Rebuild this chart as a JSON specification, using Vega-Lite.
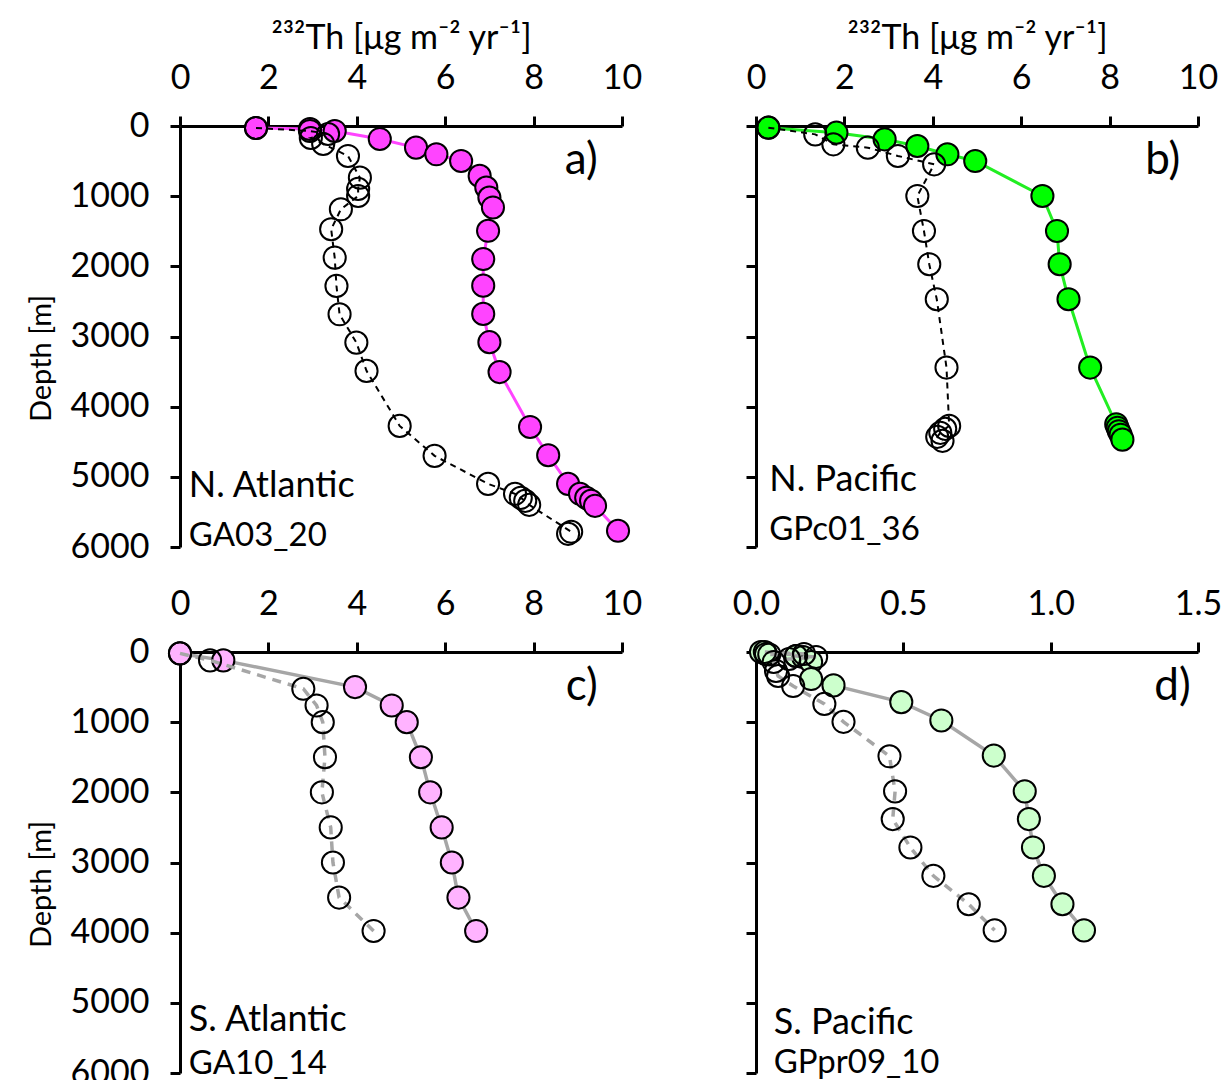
{
  "$schema": "https://vega.github.io/schema/vega-lite/v6.json",
  "background": "white",
  "padding": {"left": 27, "top": 21, "right": 5, "bottom": 0},
  "datasets": {
    "labels": [
      {"p":"a","k":"tag","t":"a)"},{"p":"a","k":"name","t":"N. Atlantic"},{"p":"a","k":"id","t":"GA03_20"},
      {"p":"b","k":"tag","t":"b)"},{"p":"b","k":"name","t":"N. Pacific"},{"p":"b","k":"id","t":"GPc01_36"},
      {"p":"c","k":"tag","t":"c)"},{"p":"c","k":"name","t":"S. Atlantic"},{"p":"c","k":"id","t":"GA10_14"},
      {"p":"d","k":"tag","t":"d)"},{"p":"d","k":"name","t":"S. Pacific"},{"p":"d","k":"id","t":"GPpr09_10"}
    ],
    "profiles": [
      {"p":"a","s":"f","x":1.72,"d":28},{"p":"a","s":"f","x":2.94,"d":43},{"p":"a","s":"f","x":3.5,"d":71},{"p":"a","s":"f","x":4.52,"d":185},{"p":"a","s":"f","x":5.34,"d":308},{"p":"a","s":"f","x":5.8,"d":403},{"p":"a","s":"f","x":6.36,"d":498},{"p":"a","s":"f","x":6.78,"d":711},{"p":"a","s":"f","x":6.93,"d":877},{"p":"a","s":"f","x":7.0,"d":1019},{"p":"a","s":"f","x":7.08,"d":1161},{"p":"a","s":"f","x":6.97,"d":1493},{"p":"a","s":"f","x":6.86,"d":1896},{"p":"a","s":"f","x":6.86,"d":2275},{"p":"a","s":"f","x":6.86,"d":2678},{"p":"a","s":"f","x":7.0,"d":3081},{"p":"a","s":"f","x":7.23,"d":3507},{"p":"a","s":"f","x":7.92,"d":4289},{"p":"a","s":"f","x":8.33,"d":4692},{"p":"a","s":"f","x":8.78,"d":5100},{"p":"a","s":"f","x":9.05,"d":5242},{"p":"a","s":"f","x":9.19,"d":5299},{"p":"a","s":"f","x":9.3,"d":5342},{"p":"a","s":"f","x":9.39,"d":5413},{"p":"a","s":"f","x":9.91,"d":5769},
      {"p":"a","s":"o","x":1.72,"d":28},{"p":"a","s":"o","x":2.94,"d":71},{"p":"a","s":"o","x":3.35,"d":114},{"p":"a","s":"o","x":2.96,"d":171},{"p":"a","s":"o","x":3.24,"d":256},{"p":"a","s":"o","x":3.8,"d":427},{"p":"a","s":"o","x":4.07,"d":736},{"p":"a","s":"o","x":4.03,"d":897},{"p":"a","s":"o","x":4.03,"d":997},{"p":"a","s":"o","x":3.64,"d":1187},{"p":"a","s":"o","x":3.42,"d":1471},{"p":"a","s":"o","x":3.5,"d":1876},{"p":"a","s":"o","x":3.54,"d":2279},{"p":"a","s":"o","x":3.61,"d":2683},{"p":"a","s":"o","x":3.99,"d":3087},{"p":"a","s":"o","x":4.22,"d":3490},{"p":"a","s":"o","x":4.97,"d":4274},{"p":"a","s":"o","x":5.76,"d":4701},{"p":"a","s":"o","x":6.97,"d":5100},{"p":"a","s":"o","x":7.58,"d":5242},{"p":"a","s":"o","x":7.71,"d":5299},{"p":"a","s":"o","x":7.81,"d":5342},{"p":"a","s":"o","x":7.9,"d":5399},{"p":"a","s":"o","x":8.85,"d":5783},{"p":"a","s":"o","x":8.78,"d":5812},
      {"p":"b","s":"f","x":0.28,"d":24},{"p":"b","s":"f","x":1.82,"d":95},{"p":"b","s":"f","x":2.91,"d":190},{"p":"b","s":"f","x":3.65,"d":285},{"p":"b","s":"f","x":4.33,"d":403},{"p":"b","s":"f","x":4.96,"d":499},{"p":"b","s":"f","x":6.48,"d":997},{"p":"b","s":"f","x":6.81,"d":1496},{"p":"b","s":"f","x":6.87,"d":1970},{"p":"b","s":"f","x":7.07,"d":2469},{"p":"b","s":"f","x":7.56,"d":3443},{"p":"b","s":"f","x":8.15,"d":4250},{"p":"b","s":"f","x":8.18,"d":4300},{"p":"b","s":"f","x":8.21,"d":4350},{"p":"b","s":"f","x":8.25,"d":4400},{"p":"b","s":"f","x":8.29,"d":4470},
      {"p":"b","s":"o","x":0.28,"d":24},{"p":"b","s":"o","x":1.34,"d":119},{"p":"b","s":"o","x":1.75,"d":261},{"p":"b","s":"o","x":2.53,"d":309},{"p":"b","s":"o","x":3.21,"d":427},{"p":"b","s":"o","x":4.03,"d":546},{"p":"b","s":"o","x":3.65,"d":997},{"p":"b","s":"o","x":3.8,"d":1496},{"p":"b","s":"o","x":3.92,"d":1970},{"p":"b","s":"o","x":4.09,"d":2469},{"p":"b","s":"o","x":4.31,"d":3443},{"p":"b","s":"o","x":4.37,"d":4274},{"p":"b","s":"o","x":4.28,"d":4316},{"p":"b","s":"o","x":4.17,"d":4373},{"p":"b","s":"o","x":4.1,"d":4430},{"p":"b","s":"o","x":4.22,"d":4487},
      {"p":"c","s":"f","x":0.0,"d":20},{"p":"c","s":"f","x":0.98,"d":119},{"p":"c","s":"f","x":3.96,"d":500},{"p":"c","s":"f","x":4.79,"d":762},{"p":"c","s":"f","x":5.13,"d":1000},{"p":"c","s":"f","x":5.45,"d":1500},{"p":"c","s":"f","x":5.66,"d":2000},{"p":"c","s":"f","x":5.92,"d":2500},{"p":"c","s":"f","x":6.15,"d":3000},{"p":"c","s":"f","x":6.3,"d":3500},{"p":"c","s":"f","x":6.7,"d":3976},
      {"p":"c","s":"o","x":0.0,"d":20},{"p":"c","s":"o","x":0.68,"d":119},{"p":"c","s":"o","x":2.79,"d":524},{"p":"c","s":"o","x":3.09,"d":762},{"p":"c","s":"o","x":3.23,"d":1000},{"p":"c","s":"o","x":3.28,"d":1500},{"p":"c","s":"o","x":3.21,"d":2000},{"p":"c","s":"o","x":3.41,"d":2500},{"p":"c","s":"o","x":3.46,"d":3000},{"p":"c","s":"o","x":3.6,"d":3500},{"p":"c","s":"o","x":4.38,"d":3976},
      {"p":"d","s":"f","x":0.017,"d":0},{"p":"d","s":"f","x":0.034,"d":30},{"p":"d","s":"f","x":0.136,"d":57},{"p":"d","s":"f","x":0.16,"d":71},{"p":"d","s":"f","x":0.187,"d":142},{"p":"d","s":"f","x":0.187,"d":385},{"p":"d","s":"f","x":0.263,"d":476},{"p":"d","s":"f","x":0.493,"d":714},{"p":"d","s":"f","x":0.629,"d":976},{"p":"d","s":"f","x":0.807,"d":1476},{"p":"d","s":"f","x":0.912,"d":1986},{"p":"d","s":"f","x":0.926,"d":2381},{"p":"d","s":"f","x":0.94,"d":2786},{"p":"d","s":"f","x":0.977,"d":3190},{"p":"d","s":"f","x":1.04,"d":3595},{"p":"d","s":"f","x":1.113,"d":3967},
      {"p":"d","s":"o","x":0.03,"d":0},{"p":"d","s":"o","x":0.163,"d":28},{"p":"d","s":"o","x":0.045,"d":35},{"p":"d","s":"o","x":0.136,"d":57},{"p":"d","s":"o","x":0.204,"d":71},{"p":"d","s":"o","x":0.112,"d":100},{"p":"d","s":"o","x":0.06,"d":142},{"p":"d","s":"o","x":0.068,"d":270},{"p":"d","s":"o","x":0.075,"d":342},{"p":"d","s":"o","x":0.126,"d":485},{"p":"d","s":"o","x":0.232,"d":740},{"p":"d","s":"o","x":0.297,"d":995},{"p":"d","s":"o","x":0.453,"d":1486},{"p":"d","s":"o","x":0.472,"d":1986},{"p":"d","s":"o","x":0.464,"d":2381},{"p":"d","s":"o","x":0.524,"d":2786},{"p":"d","s":"o","x":0.602,"d":3190},{"p":"d","s":"o","x":0.722,"d":3595},{"p":"d","s":"o","x":0.81,"d":3967}
    ]
  },
  "columns": 2,
  "spacing": {"row": 105, "column": 134},
  "bounds": "flush",
  "concat": [
    {
      "width": 442, "height": 421,
      "layer": [
        {"data": {"name": "profiles"}, "transform": [{"filter": "datum.p == 'a' && datum.s == 'f'"}], "mark": {"type": "line", "color": "#ff44ff", "strokeWidth": 3},
         "encoding": {"x": {"field": "x", "type": "quantitative", "scale": {"domain": [0, 10], "nice": false, "zero": false}, "axis": {"orient": "top", "values": [0, 2, 4, 6, 8, 10], "title": "²³²Th [μg m⁻² yr⁻¹]"}},
                      "y": {"field": "d", "type": "quantitative", "scale": {"domain": [0, 6000], "reverse": true, "nice": false, "zero": false}, "axis": {"values": [0, 1000, 2000, 3000, 4000, 5000, 6000], "format": "d", "title": "Depth [m]"}},
                      "order": {"field": "d", "type": "quantitative"}}},
        {"data": {"name": "profiles"}, "transform": [{"filter": "datum.p == 'a' && datum.s == 'f'"}], "mark": {"type": "point", "shape": "circle", "filled": true, "fill": "#ff44ff", "stroke": "black", "strokeWidth": 2, "size": 490, "opacity": 1},
         "encoding": {"x": {"field": "x", "type": "quantitative", "scale": {"domain": [0, 10], "nice": false, "zero": false}, "axis": {"orient": "top", "values": [0, 2, 4, 6, 8, 10], "title": "²³²Th [μg m⁻² yr⁻¹]"}},
                      "y": {"field": "d", "type": "quantitative", "scale": {"domain": [0, 6000], "reverse": true, "nice": false, "zero": false}, "axis": {"values": [0, 1000, 2000, 3000, 4000, 5000, 6000], "format": "d", "title": "Depth [m]"}}}},
        {"data": {"name": "profiles"}, "transform": [{"filter": "datum.p == 'a' && datum.s == 'o'"}], "mark": {"type": "line", "color": "black", "strokeWidth": 2, "strokeDash": [6, 5]},
         "encoding": {"x": {"field": "x", "type": "quantitative", "scale": {"domain": [0, 10], "nice": false, "zero": false}, "axis": {"orient": "top", "values": [0, 2, 4, 6, 8, 10], "title": "²³²Th [μg m⁻² yr⁻¹]"}},
                      "y": {"field": "d", "type": "quantitative", "scale": {"domain": [0, 6000], "reverse": true, "nice": false, "zero": false}, "axis": {"values": [0, 1000, 2000, 3000, 4000, 5000, 6000], "format": "d", "title": "Depth [m]"}},
                      "order": {"field": "d", "type": "quantitative"}}},
        {"data": {"name": "profiles"}, "transform": [{"filter": "datum.p == 'a' && datum.s == 'o'"}], "mark": {"type": "point", "shape": "circle", "filled": false, "stroke": "black", "strokeWidth": 2, "size": 490, "opacity": 1},
         "encoding": {"x": {"field": "x", "type": "quantitative", "scale": {"domain": [0, 10], "nice": false, "zero": false}, "axis": {"orient": "top", "values": [0, 2, 4, 6, 8, 10], "title": "²³²Th [μg m⁻² yr⁻¹]"}},
                      "y": {"field": "d", "type": "quantitative", "scale": {"domain": [0, 6000], "reverse": true, "nice": false, "zero": false}, "axis": {"values": [0, 1000, 2000, 3000, 4000, 5000, 6000], "format": "d", "title": "Depth [m]"}}}},
        {"data": {"name": "labels"}, "transform": [{"filter": "datum.p == 'a' && datum.k == 'tag'"}], "mark": {"type": "text", "fontSize": 44, "align": "right", "baseline": "alphabetic", "color": "black"},
         "encoding": {"text": {"field": "t"}, "x": {"datum": 9.45, "type": "quantitative", "scale": {"domain": [0, 10], "nice": false, "zero": false}, "axis": {"orient": "top", "values": [0, 2, 4, 6, 8, 10], "title": "²³²Th [μg m⁻² yr⁻¹]"}},
                      "y": {"datum": 680, "type": "quantitative", "scale": {"domain": [0, 6000], "reverse": true, "nice": false, "zero": false}, "axis": {"values": [0, 1000, 2000, 3000, 4000, 5000, 6000], "format": "d", "title": "Depth [m]"}}}},
        {"data": {"name": "labels"}, "transform": [{"filter": "datum.p == 'a' && datum.k == 'name'"}], "mark": {"type": "text", "fontSize": 36, "align": "left", "baseline": "alphabetic", "color": "black"},
         "encoding": {"text": {"field": "t"}, "x": {"datum": 0.2, "type": "quantitative", "scale": {"domain": [0, 10], "nice": false, "zero": false}, "axis": {"orient": "top", "values": [0, 2, 4, 6, 8, 10], "title": "²³²Th [μg m⁻² yr⁻¹]"}},
                      "y": {"datum": 5290, "type": "quantitative", "scale": {"domain": [0, 6000], "reverse": true, "nice": false, "zero": false}, "axis": {"values": [0, 1000, 2000, 3000, 4000, 5000, 6000], "format": "d", "title": "Depth [m]"}}}},
        {"data": {"name": "labels"}, "transform": [{"filter": "datum.p == 'a' && datum.k == 'id'"}], "mark": {"type": "text", "fontSize": 33, "align": "left", "baseline": "alphabetic", "color": "black"},
         "encoding": {"text": {"field": "t"}, "x": {"datum": 0.2, "type": "quantitative", "scale": {"domain": [0, 10], "nice": false, "zero": false}, "axis": {"orient": "top", "values": [0, 2, 4, 6, 8, 10], "title": "²³²Th [μg m⁻² yr⁻¹]"}},
                      "y": {"datum": 5980, "type": "quantitative", "scale": {"domain": [0, 6000], "reverse": true, "nice": false, "zero": false}, "axis": {"values": [0, 1000, 2000, 3000, 4000, 5000, 6000], "format": "d", "title": "Depth [m]"}}}}
      ]
    },
    {
      "width": 442, "height": 421,
      "layer": [
        {"data": {"name": "profiles"}, "transform": [{"filter": "datum.p == 'b' && datum.s == 'f'"}], "mark": {"type": "line", "color": "#22ee22", "strokeWidth": 3},
         "encoding": {"x": {"field": "x", "type": "quantitative", "scale": {"domain": [0, 10], "nice": false, "zero": false}, "axis": {"orient": "top", "values": [0, 2, 4, 6, 8, 10], "title": "²³²Th [μg m⁻² yr⁻¹]"}},
                      "y": {"field": "d", "type": "quantitative", "scale": {"domain": [0, 6000], "reverse": true, "nice": false, "zero": false}, "axis": {"values": [0, 1000, 2000, 3000, 4000, 5000, 6000], "labels": false, "title": null}},
                      "order": {"field": "d", "type": "quantitative"}}},
        {"data": {"name": "profiles"}, "transform": [{"filter": "datum.p == 'b' && datum.s == 'f'"}], "mark": {"type": "point", "shape": "circle", "filled": true, "fill": "#00ff00", "stroke": "black", "strokeWidth": 2, "size": 490, "opacity": 1},
         "encoding": {"x": {"field": "x", "type": "quantitative", "scale": {"domain": [0, 10], "nice": false, "zero": false}, "axis": {"orient": "top", "values": [0, 2, 4, 6, 8, 10], "title": "²³²Th [μg m⁻² yr⁻¹]"}},
                      "y": {"field": "d", "type": "quantitative", "scale": {"domain": [0, 6000], "reverse": true, "nice": false, "zero": false}, "axis": {"values": [0, 1000, 2000, 3000, 4000, 5000, 6000], "labels": false, "title": null}}}},
        {"data": {"name": "profiles"}, "transform": [{"filter": "datum.p == 'b' && datum.s == 'o'"}], "mark": {"type": "line", "color": "black", "strokeWidth": 2, "strokeDash": [6, 5]},
         "encoding": {"x": {"field": "x", "type": "quantitative", "scale": {"domain": [0, 10], "nice": false, "zero": false}, "axis": {"orient": "top", "values": [0, 2, 4, 6, 8, 10], "title": "²³²Th [μg m⁻² yr⁻¹]"}},
                      "y": {"field": "d", "type": "quantitative", "scale": {"domain": [0, 6000], "reverse": true, "nice": false, "zero": false}, "axis": {"values": [0, 1000, 2000, 3000, 4000, 5000, 6000], "labels": false, "title": null}},
                      "order": {"field": "d", "type": "quantitative"}}},
        {"data": {"name": "profiles"}, "transform": [{"filter": "datum.p == 'b' && datum.s == 'o'"}], "mark": {"type": "point", "shape": "circle", "filled": false, "stroke": "black", "strokeWidth": 2, "size": 490, "opacity": 1},
         "encoding": {"x": {"field": "x", "type": "quantitative", "scale": {"domain": [0, 10], "nice": false, "zero": false}, "axis": {"orient": "top", "values": [0, 2, 4, 6, 8, 10], "title": "²³²Th [μg m⁻² yr⁻¹]"}},
                      "y": {"field": "d", "type": "quantitative", "scale": {"domain": [0, 6000], "reverse": true, "nice": false, "zero": false}, "axis": {"values": [0, 1000, 2000, 3000, 4000, 5000, 6000], "labels": false, "title": null}}}},
        {"data": {"name": "labels"}, "transform": [{"filter": "datum.p == 'b' && datum.k == 'tag'"}], "mark": {"type": "text", "fontSize": 44, "align": "right", "baseline": "alphabetic", "color": "black"},
         "encoding": {"text": {"field": "t"}, "x": {"datum": 9.6, "type": "quantitative", "scale": {"domain": [0, 10], "nice": false, "zero": false}, "axis": {"orient": "top", "values": [0, 2, 4, 6, 8, 10], "title": "²³²Th [μg m⁻² yr⁻¹]"}},
                      "y": {"datum": 680, "type": "quantitative", "scale": {"domain": [0, 6000], "reverse": true, "nice": false, "zero": false}, "axis": {"values": [0, 1000, 2000, 3000, 4000, 5000, 6000], "labels": false, "title": null}}}},
        {"data": {"name": "labels"}, "transform": [{"filter": "datum.p == 'b' && datum.k == 'name'"}], "mark": {"type": "text", "fontSize": 36, "align": "left", "baseline": "alphabetic", "color": "black"},
         "encoding": {"text": {"field": "t"}, "x": {"datum": 0.3, "type": "quantitative", "scale": {"domain": [0, 10], "nice": false, "zero": false}, "axis": {"orient": "top", "values": [0, 2, 4, 6, 8, 10], "title": "²³²Th [μg m⁻² yr⁻¹]"}},
                      "y": {"datum": 5200, "type": "quantitative", "scale": {"domain": [0, 6000], "reverse": true, "nice": false, "zero": false}, "axis": {"values": [0, 1000, 2000, 3000, 4000, 5000, 6000], "labels": false, "title": null}}}},
        {"data": {"name": "labels"}, "transform": [{"filter": "datum.p == 'b' && datum.k == 'id'"}], "mark": {"type": "text", "fontSize": 33, "align": "left", "baseline": "alphabetic", "color": "black"},
         "encoding": {"text": {"field": "t"}, "x": {"datum": 0.3, "type": "quantitative", "scale": {"domain": [0, 10], "nice": false, "zero": false}, "axis": {"orient": "top", "values": [0, 2, 4, 6, 8, 10], "title": "²³²Th [μg m⁻² yr⁻¹]"}},
                      "y": {"datum": 5900, "type": "quantitative", "scale": {"domain": [0, 6000], "reverse": true, "nice": false, "zero": false}, "axis": {"values": [0, 1000, 2000, 3000, 4000, 5000, 6000], "labels": false, "title": null}}}}
      ]
    },
    {
      "width": 442, "height": 421,
      "layer": [
        {"data": {"name": "profiles"}, "transform": [{"filter": "datum.p == 'c' && datum.s == 'f'"}], "mark": {"type": "line", "color": "#a6a6a6", "strokeWidth": 3.5},
         "encoding": {"x": {"field": "x", "type": "quantitative", "scale": {"domain": [0, 10], "nice": false, "zero": false}, "axis": {"orient": "top", "values": [0, 2, 4, 6, 8, 10], "title": null}},
                      "y": {"field": "d", "type": "quantitative", "scale": {"domain": [0, 6000], "reverse": true, "nice": false, "zero": false}, "axis": {"values": [0, 1000, 2000, 3000, 4000, 5000, 6000], "format": "d", "title": "Depth [m]"}},
                      "order": {"field": "d", "type": "quantitative"}}},
        {"data": {"name": "profiles"}, "transform": [{"filter": "datum.p == 'c' && datum.s == 'f'"}], "mark": {"type": "point", "shape": "circle", "filled": true, "fill": "#ffb3ff", "stroke": "black", "strokeWidth": 2, "size": 490, "opacity": 1},
         "encoding": {"x": {"field": "x", "type": "quantitative", "scale": {"domain": [0, 10], "nice": false, "zero": false}, "axis": {"orient": "top", "values": [0, 2, 4, 6, 8, 10], "title": null}},
                      "y": {"field": "d", "type": "quantitative", "scale": {"domain": [0, 6000], "reverse": true, "nice": false, "zero": false}, "axis": {"values": [0, 1000, 2000, 3000, 4000, 5000, 6000], "format": "d", "title": "Depth [m]"}}}},
        {"data": {"name": "profiles"}, "transform": [{"filter": "datum.p == 'c' && datum.s == 'o'"}], "mark": {"type": "line", "color": "#a6a6a6", "strokeWidth": 3.5, "strokeDash": [9, 7]},
         "encoding": {"x": {"field": "x", "type": "quantitative", "scale": {"domain": [0, 10], "nice": false, "zero": false}, "axis": {"orient": "top", "values": [0, 2, 4, 6, 8, 10], "title": null}},
                      "y": {"field": "d", "type": "quantitative", "scale": {"domain": [0, 6000], "reverse": true, "nice": false, "zero": false}, "axis": {"values": [0, 1000, 2000, 3000, 4000, 5000, 6000], "format": "d", "title": "Depth [m]"}},
                      "order": {"field": "d", "type": "quantitative"}}},
        {"data": {"name": "profiles"}, "transform": [{"filter": "datum.p == 'c' && datum.s == 'o'"}], "mark": {"type": "point", "shape": "circle", "filled": false, "stroke": "black", "strokeWidth": 2, "size": 490, "opacity": 1},
         "encoding": {"x": {"field": "x", "type": "quantitative", "scale": {"domain": [0, 10], "nice": false, "zero": false}, "axis": {"orient": "top", "values": [0, 2, 4, 6, 8, 10], "title": null}},
                      "y": {"field": "d", "type": "quantitative", "scale": {"domain": [0, 6000], "reverse": true, "nice": false, "zero": false}, "axis": {"values": [0, 1000, 2000, 3000, 4000, 5000, 6000], "format": "d", "title": "Depth [m]"}}}},
        {"data": {"name": "labels"}, "transform": [{"filter": "datum.p == 'c' && datum.k == 'tag'"}], "mark": {"type": "text", "fontSize": 44, "align": "right", "baseline": "alphabetic", "color": "black"},
         "encoding": {"text": {"field": "t"}, "x": {"datum": 9.45, "type": "quantitative", "scale": {"domain": [0, 10], "nice": false, "zero": false}, "axis": {"orient": "top", "values": [0, 2, 4, 6, 8, 10], "title": null}},
                      "y": {"datum": 690, "type": "quantitative", "scale": {"domain": [0, 6000], "reverse": true, "nice": false, "zero": false}, "axis": {"values": [0, 1000, 2000, 3000, 4000, 5000, 6000], "format": "d", "title": "Depth [m]"}}}},
        {"data": {"name": "labels"}, "transform": [{"filter": "datum.p == 'c' && datum.k == 'name'"}], "mark": {"type": "text", "fontSize": 36, "align": "left", "baseline": "alphabetic", "color": "black"},
         "encoding": {"text": {"field": "t"}, "x": {"datum": 0.2, "type": "quantitative", "scale": {"domain": [0, 10], "nice": false, "zero": false}, "axis": {"orient": "top", "values": [0, 2, 4, 6, 8, 10], "title": null}},
                      "y": {"datum": 5400, "type": "quantitative", "scale": {"domain": [0, 6000], "reverse": true, "nice": false, "zero": false}, "axis": {"values": [0, 1000, 2000, 3000, 4000, 5000, 6000], "format": "d", "title": "Depth [m]"}}}},
        {"data": {"name": "labels"}, "transform": [{"filter": "datum.p == 'c' && datum.k == 'id'"}], "mark": {"type": "text", "fontSize": 33, "align": "left", "baseline": "alphabetic", "color": "black"},
         "encoding": {"text": {"field": "t"}, "x": {"datum": 0.2, "type": "quantitative", "scale": {"domain": [0, 10], "nice": false, "zero": false}, "axis": {"orient": "top", "values": [0, 2, 4, 6, 8, 10], "title": null}},
                      "y": {"datum": 6020, "type": "quantitative", "scale": {"domain": [0, 6000], "reverse": true, "nice": false, "zero": false}, "axis": {"values": [0, 1000, 2000, 3000, 4000, 5000, 6000], "format": "d", "title": "Depth [m]"}}}}
      ]
    },
    {
      "width": 442, "height": 421,
      "layer": [
        {"data": {"name": "profiles"}, "transform": [{"filter": "datum.p == 'd' && datum.s == 'f'"}], "mark": {"type": "line", "color": "#a6a6a6", "strokeWidth": 3.5},
         "encoding": {"x": {"field": "x", "type": "quantitative", "scale": {"domain": [0, 1.5], "nice": false, "zero": false}, "axis": {"orient": "top", "values": [0, 0.5, 1, 1.5], "format": ".1f", "title": null}},
                      "y": {"field": "d", "type": "quantitative", "scale": {"domain": [0, 6000], "reverse": true, "nice": false, "zero": false}, "axis": {"values": [0, 1000, 2000, 3000, 4000, 5000, 6000], "labels": false, "title": null}},
                      "order": {"field": "d", "type": "quantitative"}}},
        {"data": {"name": "profiles"}, "transform": [{"filter": "datum.p == 'd' && datum.s == 'f'"}], "mark": {"type": "point", "shape": "circle", "filled": true, "fill": "#ccffcc", "stroke": "black", "strokeWidth": 2, "size": 490, "opacity": 1},
         "encoding": {"x": {"field": "x", "type": "quantitative", "scale": {"domain": [0, 1.5], "nice": false, "zero": false}, "axis": {"orient": "top", "values": [0, 0.5, 1, 1.5], "format": ".1f", "title": null}},
                      "y": {"field": "d", "type": "quantitative", "scale": {"domain": [0, 6000], "reverse": true, "nice": false, "zero": false}, "axis": {"values": [0, 1000, 2000, 3000, 4000, 5000, 6000], "labels": false, "title": null}}}},
        {"data": {"name": "profiles"}, "transform": [{"filter": "datum.p == 'd' && datum.s == 'o'"}], "mark": {"type": "line", "color": "#a6a6a6", "strokeWidth": 3.5, "strokeDash": [9, 7]},
         "encoding": {"x": {"field": "x", "type": "quantitative", "scale": {"domain": [0, 1.5], "nice": false, "zero": false}, "axis": {"orient": "top", "values": [0, 0.5, 1, 1.5], "format": ".1f", "title": null}},
                      "y": {"field": "d", "type": "quantitative", "scale": {"domain": [0, 6000], "reverse": true, "nice": false, "zero": false}, "axis": {"values": [0, 1000, 2000, 3000, 4000, 5000, 6000], "labels": false, "title": null}},
                      "order": {"field": "d", "type": "quantitative"}}},
        {"data": {"name": "profiles"}, "transform": [{"filter": "datum.p == 'd' && datum.s == 'o'"}], "mark": {"type": "point", "shape": "circle", "filled": false, "stroke": "black", "strokeWidth": 2, "size": 490, "opacity": 1},
         "encoding": {"x": {"field": "x", "type": "quantitative", "scale": {"domain": [0, 1.5], "nice": false, "zero": false}, "axis": {"orient": "top", "values": [0, 0.5, 1, 1.5], "format": ".1f", "title": null}},
                      "y": {"field": "d", "type": "quantitative", "scale": {"domain": [0, 6000], "reverse": true, "nice": false, "zero": false}, "axis": {"values": [0, 1000, 2000, 3000, 4000, 5000, 6000], "labels": false, "title": null}}}},
        {"data": {"name": "labels"}, "transform": [{"filter": "datum.p == 'd' && datum.k == 'tag'"}], "mark": {"type": "text", "fontSize": 44, "align": "right", "baseline": "alphabetic", "color": "black"},
         "encoding": {"text": {"field": "t"}, "x": {"datum": 1.475, "type": "quantitative", "scale": {"domain": [0, 1.5], "nice": false, "zero": false}, "axis": {"orient": "top", "values": [0, 0.5, 1, 1.5], "format": ".1f", "title": null}},
                      "y": {"datum": 690, "type": "quantitative", "scale": {"domain": [0, 6000], "reverse": true, "nice": false, "zero": false}, "axis": {"values": [0, 1000, 2000, 3000, 4000, 5000, 6000], "labels": false, "title": null}}}},
        {"data": {"name": "labels"}, "transform": [{"filter": "datum.p == 'd' && datum.k == 'name'"}], "mark": {"type": "text", "fontSize": 36, "align": "left", "baseline": "alphabetic", "color": "black"},
         "encoding": {"text": {"field": "t"}, "x": {"datum": 0.06, "type": "quantitative", "scale": {"domain": [0, 1.5], "nice": false, "zero": false}, "axis": {"orient": "top", "values": [0, 0.5, 1, 1.5], "format": ".1f", "title": null}},
                      "y": {"datum": 5450, "type": "quantitative", "scale": {"domain": [0, 6000], "reverse": true, "nice": false, "zero": false}, "axis": {"values": [0, 1000, 2000, 3000, 4000, 5000, 6000], "labels": false, "title": null}}}},
        {"data": {"name": "labels"}, "transform": [{"filter": "datum.p == 'd' && datum.k == 'id'"}], "mark": {"type": "text", "fontSize": 33, "align": "left", "baseline": "alphabetic", "color": "black"},
         "encoding": {"text": {"field": "t"}, "x": {"datum": 0.06, "type": "quantitative", "scale": {"domain": [0, 1.5], "nice": false, "zero": false}, "axis": {"orient": "top", "values": [0, 0.5, 1, 1.5], "format": ".1f", "title": null}},
                      "y": {"datum": 6000, "type": "quantitative", "scale": {"domain": [0, 6000], "reverse": true, "nice": false, "zero": false}, "axis": {"values": [0, 1000, 2000, 3000, 4000, 5000, 6000], "labels": false, "title": null}}}}
      ]
    }
  ],
  "config": {
    "view": {"stroke": null},
    "font": "Lato",
    "text": {"font": "Lato", "color": "black"},
    "axis": {"grid": false, "domainColor": "black", "domainWidth": 3, "tickColor": "black", "tickWidth": 3, "tickSize": 10, "labelFont": "Lato", "labelFontSize": 34, "labelColor": "black", "labelFlush": false, "labelOverlap": false, "titleFont": "Lato", "titleFontSize": 32, "titleFontWeight": "normal", "titleColor": "black"},
    "axisX": {"labelPadding": 21, "titlePadding": 6, "titleFontSize": 34},
    "axisY": {"labelPadding": 21, "titlePadding": 14, "titleFontSize": 29, "titleY": 232}
  }
}
